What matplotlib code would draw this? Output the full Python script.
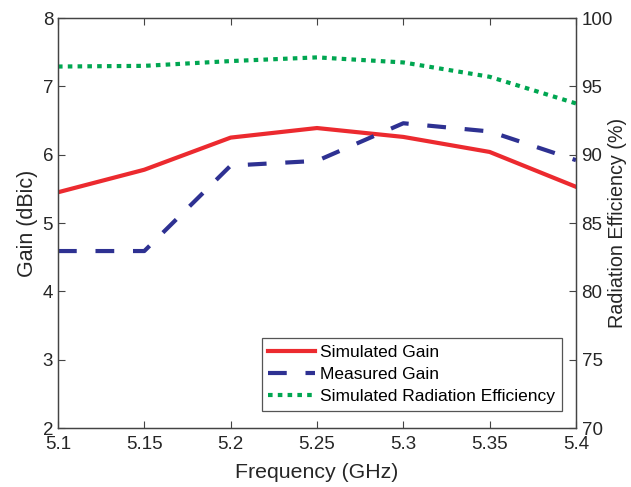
"""Gain and radiation efficiency versus frequency, twin y axes."""
import matplotlib
matplotlib.use('Agg')
import matplotlib.pyplot as plt

# ── data ────────────────────────────────────────────────────────────
freq_ghz = [5.1, 5.15, 5.2, 5.25, 5.3, 5.35, 5.4]
sim_gain = [5.45, 5.78, 6.25, 6.39, 6.26, 6.04, 5.53]
meas_gain = [4.59, 4.59, 5.84, 5.91, 6.46, 6.34, 5.92]
sim_eff = [96.45, 96.5, 96.85, 97.12, 96.75, 95.7, 93.75]

x_ticks = [5.1, 5.15, 5.2, 5.25, 5.3, 5.35, 5.4]
gain_ticks = [2, 3, 4, 5, 6, 7, 8]
eff_ticks = [70, 75, 80, 85, 90, 95, 100]

RED = '#ec2a2f'
BLUE = '#2e3192'
GREEN = '#00a651'
INK = '#262626'

plt.rcParams.update({
    'font.family': 'sans-serif',
    'font.sans-serif': ['Liberation Sans', 'DejaVu Sans'],
    'font.size': 13.5,
    'axes.edgecolor': '#444444',
    'axes.linewidth': 0.9,
    'xtick.color': '#444444',
    'ytick.color': '#444444',
    'xtick.labelcolor': INK,
    'ytick.labelcolor': INK,
})

fig = plt.figure(figsize=(6.31, 4.87), dpi=100)
ax = fig.add_axes([0.0919, 0.1211, 0.8209, 0.8419])
ax2 = ax.twinx()

lw = 3.0
l1, = ax.plot(freq_ghz, sim_gain, color=RED, lw=lw, solid_joinstyle='round',
              label='Simulated Gain')
l2, = ax.plot(freq_ghz, meas_gain, color=BLUE, lw=lw, dashes=(4.5, 4.5),
              label='Measured Gain')
l3, = ax2.plot(freq_ghz, sim_eff, color=GREEN, lw=lw, dashes=(1.1, 1.25),
               label='Simulated Radiation Efficiency')

ax.set_xlim(5.1, 5.4)
ax.set_ylim(2, 8)
ax2.set_ylim(70, 100)
ax.set_xticks(x_ticks)
ax.set_xticklabels([f'{t:g}' for t in x_ticks])
ax.set_yticks(gain_ticks)
ax2.set_yticks(eff_ticks)

ax.tick_params(axis='x', direction='in', top=True, length=5, pad=6)
ax.tick_params(axis='y', direction='in', right=False, length=5, pad=3.5)
ax2.tick_params(axis='y', direction='in', length=5, pad=4)

ax.set_xlabel('Frequency (GHz)', fontsize=15.3, color=INK, labelpad=7)
ax.set_ylabel('Gain (dBic)', fontsize=15.5, color=INK, labelpad=3)
ax2.set_ylabel('Radiation Efficiency (%)', fontsize=14.2, color=INK)
# pin the right label so it sits just inside the figure edge
ax2.yaxis.set_label_coords(1.0618, 0.5)

leg = ax2.legend(handles=[l1, l2, l3], loc='lower right',
                 bbox_to_anchor=(0.973, 0.0415), fontsize=12.5,
                 fancybox=False, framealpha=1, edgecolor='#555555',
                 handlelength=2.7, handletextpad=0.27, borderpad=0.4,
                 borderaxespad=0, labelspacing=0.4)
leg.get_frame().set_linewidth(0.9)

fig.savefig('out.png', dpi=100, facecolor='white')
